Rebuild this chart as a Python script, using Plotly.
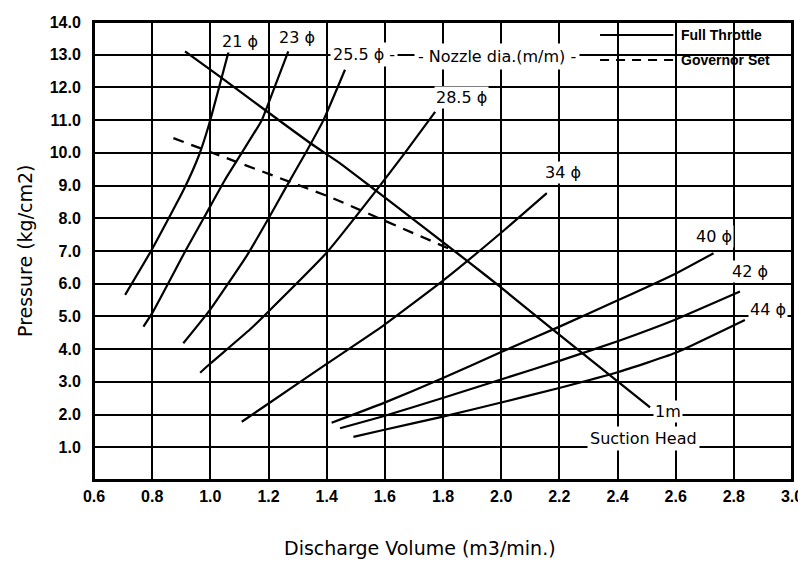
import plotly.graph_objects as go

# ---------------- data ----------------
full_x = [0.913, 1.033, 1.188, 1.343, 1.446, 1.566, 1.893, 1.996, 2.179, 2.512]
full_y = [13.10, 12.33, 11.31, 10.30, 9.68, 8.87, 6.63, 5.91, 4.59, 2.22]

gov_x = [0.873, 1.412, 1.824]
gov_y = [10.45, 8.65, 7.06]

n21_x = [0.707, 0.798, 0.910, 0.962, 0.995, 1.024, 1.065]
n21_y = [5.66, 7.03, 8.90, 9.95, 10.85, 11.80, 13.17]

n23_x = [0.770, 0.800, 0.916, 0.977, 1.050, 1.108, 1.177, 1.222, 1.268]
n23_y = [4.69, 5.10, 7.03, 8.00, 9.17, 10.00, 11.00, 12.03, 13.10]

n255_x = [0.907, 0.999, 1.125, 1.194, 1.257, 1.331, 1.389, 1.463]
n255_y = [4.18, 5.20, 6.85, 7.90, 8.90, 10.05, 11.00, 12.54]

n285_x = [0.965, 1.000, 1.136, 1.194, 1.400, 1.566, 1.669, 1.773]
n285_y = [3.28, 3.56, 4.60, 5.10, 6.95, 8.80, 10.00, 11.25]

n34_x = [1.108, 1.194, 1.400, 1.595, 1.801, 2.008, 2.157]
n34_y = [1.78, 2.30, 3.55, 4.72, 6.10, 7.62, 8.77]

n40_x = [1.417, 1.595, 1.796, 2.002, 2.191, 2.403, 2.598, 2.730]
n40_y = [1.75, 2.35, 3.10, 3.92, 4.65, 5.50, 6.30, 6.93]

n42_x = [1.446, 1.595, 1.796, 2.002, 2.203, 2.403, 2.598, 2.821]
n42_y = [1.58, 1.95, 2.50, 3.08, 3.65, 4.25, 4.90, 5.76]

n44_x = [1.492, 1.595, 1.796, 2.000, 2.203, 2.403, 2.598, 2.838]
n44_y = [1.32, 1.53, 1.93, 2.37, 2.82, 3.30, 3.88, 4.89]

x_ticks = [0.6, 0.8, 1.0, 1.2, 1.4, 1.6, 1.8, 2.0, 2.2, 2.4, 2.6, 2.8, 3.0]
x_tick_text = ["0.6", "0.8", "1.0", "1.2", "1.4", "1.6", "1.8", "2.0", "2.2", "2.4", "2.6", "2.8", "3.0"]
y_ticks = [1, 2, 3, 4, 5, 6, 7, 8, 9, 10, 11, 12, 13, 14]
y_tick_text = ["1.0", "2.0", "3.0", "4.0", "5.0", "6.0", "7.0", "8.0", "9.0", "10.0", "11.0", "12.0", "13.0", "14.0"]

# label texts and their anchor points (data coords)
nozzle_labels = ["21 ϕ", "23 ϕ", "28.5 ϕ", "34 ϕ", "40 ϕ", "42 ϕ", "44 ϕ"]
nozzle_label_x = [1.102, 1.298, 1.862, 2.213, 2.732, 2.856, 2.918]
nozzle_label_y = [13.39, 13.52, 11.68, 9.39, 7.43, 6.36, 5.20]

# ---------------- figure ----------------
LABEL_FONT = "DejaVu Sans, Liberation Sans"
TICK_FONT = "Liberation Sans Narrow, Arial Narrow, Liberation Sans"
TITLE_FONT = "DejaVu Sans, Liberation Sans"

fig = go.Figure()

for xs, ys in [(n21_x, n21_y), (n23_x, n23_y), (n255_x, n255_y), (n285_x, n285_y),
               (n34_x, n34_y), (n40_x, n40_y), (n42_x, n42_y), (n44_x, n44_y)]:
    fig.add_trace(go.Scatter(x=xs, y=ys, mode="lines", showlegend=False,
                             line=dict(color="black", width=2.2, shape="spline", smoothing=0.4),
                             hoverinfo="skip"))

fig.add_trace(go.Scatter(x=full_x, y=full_y, mode="lines", name="Full Throttle", showlegend=False,
                         line=dict(color="black", width=2.3, shape="spline", smoothing=0.4)))
fig.add_trace(go.Scatter(x=gov_x, y=gov_y, mode="lines", name="Governor Set", showlegend=False,
                         line=dict(color="black", width=2.3, dash="11px,8px")))

annotations = []
for t, ax_, ay_ in zip(nozzle_labels, nozzle_label_x, nozzle_label_y):
    annotations.append(dict(x=ax_, y=ay_, text=t, showarrow=False, xref="x", yref="y",
                            xanchor="center", yanchor="middle",
                            font=dict(family=LABEL_FONT, size=16, color="black"),
                            bgcolor="white", borderpad=1))
annotations += [
    dict(x=1.528, y=13.0, text="25.5 ϕ -", showarrow=False, xanchor="center", yanchor="middle",
         font=dict(family=LABEL_FONT, size=16, color="black"), bgcolor="white", borderpad=2),
    dict(x=1.985, y=12.94, text="- Nozzle dia.(m/m) -", showarrow=False, xanchor="center", yanchor="middle",
         font=dict(family=LABEL_FONT, size=16, color="black"), bgcolor="white", borderpad=3),
    dict(x=2.574, y=2.08, text="1m", showarrow=False, xanchor="center", yanchor="middle",
         font=dict(family=LABEL_FONT, size=16, color="black"), bgcolor="white", borderpad=1),
    dict(x=2.488, y=1.28, text="Suction Head", showarrow=False, xanchor="center", yanchor="middle",
         font=dict(family=LABEL_FONT, size=16, color="black"), bgcolor="white", borderpad=2),
    # legend texts
    dict(x=0.838, y=0.9716, xref="paper", yref="paper", xanchor="left", yanchor="middle",
         text="Full Throttle", showarrow=False,
         font=dict(family=TICK_FONT, size=14, color="black", weight="bold")),
    dict(x=0.838, y=0.917, xref="paper", yref="paper", xanchor="left", yanchor="middle",
         text="Governor Set", showarrow=False,
         font=dict(family=TICK_FONT, size=14, color="black", weight="bold")),
    # axis titles
    dict(x=-0.099, y=0.502, xref="paper", yref="paper", xanchor="center", yanchor="middle",
         text="Pressure (kg/cm2)", textangle=-90, showarrow=False,
         font=dict(family=TITLE_FONT, size=19, color="black")),
    dict(x=0.467, y=-0.148, xref="paper", yref="paper", xanchor="center", yanchor="middle",
         text="Discharge Volume (m3/min.)", showarrow=False,
         font=dict(family=TITLE_FONT, size=19, color="black")),
]

shapes = [
    # legend box background (hides grid)
    dict(type="rect", xref="paper", yref="paper", x0=0.722, x1=0.996, y0=0.869, y1=0.994,
         fillcolor="white", line=dict(width=0), layer="between"),
    dict(type="line", xref="paper", yref="paper", x0=0.725, x1=0.830, y0=0.9716, y1=0.9716,
         line=dict(color="black", width=2)),
    dict(type="line", xref="paper", yref="paper", x0=0.725, x1=0.830, y0=0.917, y1=0.917,
         line=dict(color="black", width=2, dash="9px,7px")),
    # plot frame
    dict(type="rect", xref="paper", yref="paper", x0=0, x1=1, y0=0, y1=1,
         line=dict(color="black", width=2), fillcolor="rgba(0,0,0,0)", layer="above"),
]

fig.update_layout(
    width=798, height=562,
    margin=dict(l=94, r=6, t=22, b=82, autoexpand=False),
    paper_bgcolor="white", plot_bgcolor="white",
    annotations=annotations, shapes=shapes,
    showlegend=False,
)
fig.update_xaxes(range=[0.6, 3.0], tickvals=x_ticks, ticktext=x_tick_text,
                 showgrid=True, gridcolor="black", gridwidth=2,
                 showline=True, linecolor="black", linewidth=2, mirror=True,
                 ticks="", ticklabelstandoff=1, zeroline=False, ticklabeloverflow="allow",
                 automargin=False,
                 tickfont=dict(family=TICK_FONT, size=16, color="black", weight="bold"))
fig.update_yaxes(range=[0, 14], tickvals=y_ticks, ticktext=y_tick_text,
                 showgrid=True, gridcolor="black", gridwidth=2,
                 showline=True, linecolor="black", linewidth=2, mirror=True,
                 ticks="", ticklabelstandoff=8, zeroline=False, ticklabeloverflow="allow",
                 automargin=False,
                 tickfont=dict(family=TICK_FONT, size=16, color="black", weight="bold"))

# remove the page's default body margin so the figure fills the 798x562 window exactly
fig.write_html("out.html", config={"displayModeBar": False},
               post_script="document.body.style.margin='0';document.body.style.overflow='hidden';")
